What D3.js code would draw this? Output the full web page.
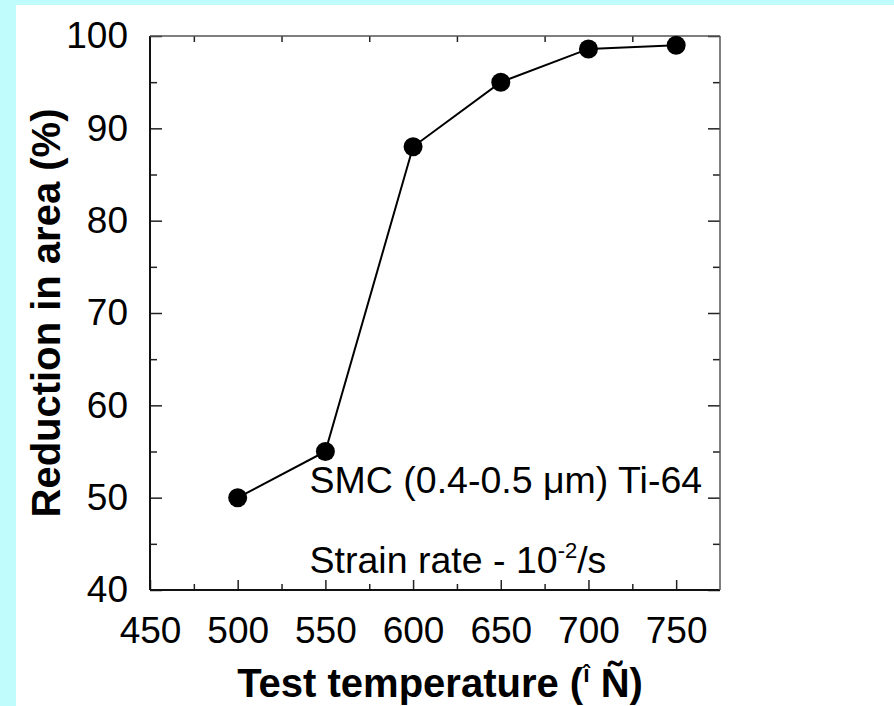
<!DOCTYPE html>
<html>
<head>
<meta charset="utf-8">
<script src="https://cdn.jsdelivr.net/npm/d3@7"></script>
<style>
  html, body { margin: 0; padding: 0; background: #c0fcfc; }
  svg { display: block; }
</style>
</head>
<body>
<svg id="chart" width="894" height="706"></svg>
<script>
// Data
const temperatures = [500, 550, 600, 650, 700, 750];
const reductionInArea = [50, 55, 88, 95, 98.6, 99];
const xMajorTicks = [450, 500, 550, 600, 650, 700, 750];
const xMinorTicks = [475, 525, 575, 625, 675, 725];
const yMajorTicks = [40, 50, 60, 70, 80, 90, 100];
const yMinorTicks = [45, 55, 65, 75, 85, 95];
const xTitle = "Test temperature (";
const yTitle = "Reduction in area (%)";
const note1 = "SMC (0.4-0.5 μm) Ti-64";
const note2 = "Strain rate - 10";

const svg = d3.select("#chart");
const W = 894, H = 706;
svg.append("rect").attr("x", 0).attr("y", 0).attr("width", W).attr("height", H).attr("fill", "#c0fcfc");
svg.append("rect").attr("x", 16).attr("y", 5).attr("width", W - 16).attr("height", H - 5).attr("fill", "#ffffff");

const L = 150, R = 720, T = 36, B = 590;
const x = d3.scaleLinear().domain([450, 775]).range([L, R]);
const y = d3.scaleLinear().domain([40, 100]).range([B, T]);

const font = "Arial, 'Liberation Sans', sans-serif";
const axisColor = "#222";

function styleAxis(g) {
  g.select(".domain").remove();
  g.selectAll(".tick line").attr("stroke", axisColor).attr("stroke-width", 1.5);
  g.selectAll(".tick text").attr("font-family", font).attr("font-size", 37).attr("fill", "#000");
}

// Left axis: major labelled
svg.append("g").attr("transform", `translate(${L},0)`)
  .call(d3.axisLeft(y).tickValues(yMajorTicks).tickSize(-12).tickPadding(22).tickFormat(d3.format("d")))
  .call(styleAxis);
svg.append("g").attr("transform", `translate(${L},0)`)
  .call(d3.axisLeft(y).tickValues(yMinorTicks).tickSize(-7).tickFormat(""))
  .call(styleAxis);
// Right axis
svg.append("g").attr("transform", `translate(${R},0)`)
  .call(d3.axisRight(y).tickValues(yMajorTicks).tickSize(-12).tickFormat(""))
  .call(styleAxis);
svg.append("g").attr("transform", `translate(${R},0)`)
  .call(d3.axisRight(y).tickValues(yMinorTicks).tickSize(-7).tickFormat(""))
  .call(styleAxis);
// Bottom axis
svg.append("g").attr("transform", `translate(0,${B})`)
  .call(d3.axisBottom(x).tickValues(xMajorTicks).tickSize(-10).tickPadding(27).tickFormat(d3.format("d")))
  .call(styleAxis);
svg.append("g").attr("transform", `translate(0,${B})`)
  .call(d3.axisBottom(x).tickValues(xMinorTicks).tickSize(-6).tickFormat(""))
  .call(styleAxis);
// Top axis
svg.append("g").attr("transform", `translate(0,${T})`)
  .call(d3.axisTop(x).tickValues(xMinorTicks).tickSize(-6).tickFormat(""))
  .call(styleAxis);

// Frame
svg.append("line").attr("x1", L).attr("x2", L).attr("y1", T).attr("y2", B).attr("stroke", "#111").attr("stroke-width", 2);
svg.append("line").attr("x1", L).attr("x2", R).attr("y1", B).attr("y2", B).attr("stroke", "#111").attr("stroke-width", 2);
svg.append("line").attr("x1", L).attr("x2", R).attr("y1", T).attr("y2", T).attr("stroke", "#555").attr("stroke-width", 1.5);
svg.append("line").attr("x1", R).attr("x2", R).attr("y1", T).attr("y2", B).attr("stroke", "#555").attr("stroke-width", 1.5);

// Data line + markers
const pts = temperatures.map((t, i) => [t, reductionInArea[i]]);
svg.append("path").datum(pts)
  .attr("d", d3.line().x(d => x(d[0])).y(d => y(d[1])))
  .attr("fill", "none").attr("stroke", "#000").attr("stroke-width", 2);
svg.append("g").selectAll("circle").data(pts).join("circle")
  .attr("cx", d => x(d[0])).attr("cy", d => y(d[1])).attr("r", 9.5).attr("fill", "#000");

// Annotations
svg.append("text").attr("x", x(541)).attr("y", y(50.5))
  .attr("font-family", font).attr("font-size", 37.5).attr("fill", "#000").text(note1);
const t2 = svg.append("text").attr("x", x(541)).attr("y", y(41.8))
  .attr("font-family", font).attr("font-size", 37.5).attr("fill", "#000");
t2.append("tspan").text(note2);
t2.append("tspan").attr("font-size", 22).attr("dy", -15).text("-2");
t2.append("tspan").attr("dy", 15).text("/s");

// Axis titles
const xt = svg.append("text").attr("x", (L + R) / 2 + 5).attr("y", 697).attr("text-anchor", "middle")
  .attr("font-family", font).attr("font-size", 40).attr("font-weight", "bold").attr("fill", "#000");
xt.append("tspan").text(xTitle);
xt.append("tspan").attr("font-size", 23).attr("dy", -15).text("î");
xt.append("tspan").attr("dy", 15).text(" Ñ)");

svg.append("text").attr("transform", `translate(60,${(T + B) / 2}) rotate(-90)`).attr("text-anchor", "middle")
  .attr("font-family", font).attr("font-size", 40).attr("font-weight", "bold").attr("fill", "#000").text(yTitle);
</script>
</body>
</html>
